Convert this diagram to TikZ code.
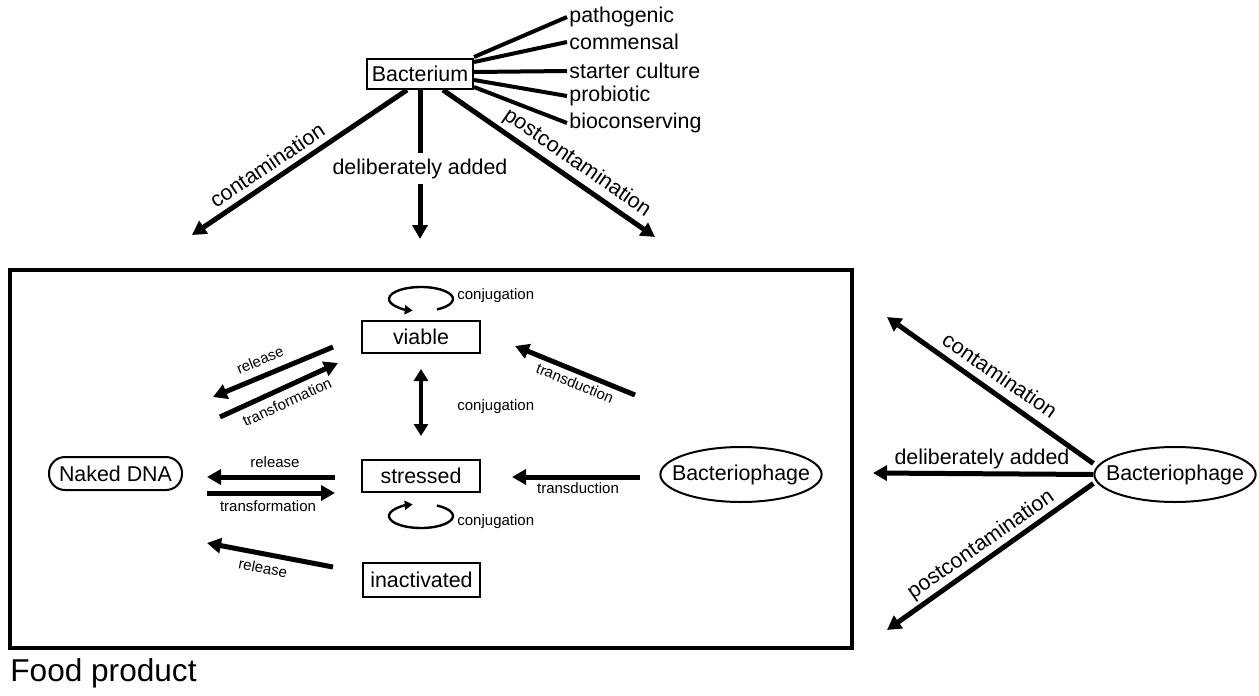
\documentclass[tikz,border=0pt]{standalone}
\usepackage{fontspec}
\setmainfont{Liberation Sans}
\usetikzlibrary{arrows.meta,shapes.geometric}
\begin{document}
\begin{tikzpicture}[x=0.5pt,y=-0.5pt,
  lab/.style={font=\fontsize{10.7}{12.8}\selectfont, inner sep=1pt},
  sm/.style={font=\fontsize{7.5}{9}\selectfont, inner sep=1pt},
  box/.style={draw, line width=1pt, rectangle, inner sep=0pt, font=\fontsize{10.7}{12.8}\selectfont},
  phage/.style={draw, line width=1pt, ellipse, inner xsep=-6pt, inner ysep=0pt, minimum width=80pt, minimum height=27.5pt, font=\fontsize{10.7}{12.8}\selectfont},
  bigarrow/.style={line width=2.5pt, -{Triangle[length=7pt,width=7.5pt]}},
  spoke/.style={line width=2pt},
  dblarrow/.style={line width=2pt, {Triangle[length=6pt,width=7pt]}-{Triangle[length=6pt,width=7pt]}},
  selfloop/.style={line width=1.2pt, -{Triangle[length=4pt,width=4.5pt]}}
]
\useasboundingbox (0,0) rectangle (1259,696);

% ---- Bacterium and its kinds
\node[box, minimum width=53pt, minimum height=15pt] (bact) at (420,74) {Bacterium};
\node[lab, anchor=west] (pat) at (567,17) {pathogenic};
\node[lab, anchor=west] (com) at (567,42) {commensal};
\node[lab, anchor=west] (sta) at (567,71) {starter culture};
\node[lab, anchor=west] (pro) at (567,96) {probiotic};
\node[lab, anchor=west] (bio) at (567,123) {bioconserving};
\draw[spoke] ([yshift=8.5pt]bact.east) -- (pat.west);
\draw[spoke] ([yshift=6pt]bact.east) -- (com.west);
\draw[spoke] ([yshift=1pt]bact.east) -- (sta.west);
\draw[spoke] ([yshift=-3pt]bact.east) -- (pro.west);
\draw[spoke] ([yshift=-6.5pt]bact.east) -- (bio.west);

% ---- arrows from Bacterium
\coordinate (tc) at (192,235);
\coordinate (td) at (420,239);
\coordinate (tp) at (655,237);
\draw[bigarrow] ([xshift=-6.5pt]bact.south) -- (tc);
\draw[bigarrow] (bact.south) -- node[lab, fill=white, pos=0.53, minimum height=15.5pt, inner xsep=0pt] (tdl) {deliberately added} (td);
\draw[bigarrow] ([xshift=11.5pt]bact.south) -- (tp);
\node[lab, rotate=34] (tcl) at (267,165) {contamination};
\node[lab, rotate=-34.7] (tpl) at (577,163) {postcontamination};

% ---- Food product box
\draw[line width=2pt] (10,270) rectangle (852,648);
\node[font=\fontsize{15.8}{18}\selectfont, anchor=west, inner sep=0pt] (food) at (10,673) {Food product};

% ---- inner nodes
\node[box, minimum width=59pt, minimum height=16pt] (via) at (421,337) {viable};
\node[box, minimum width=59pt, minimum height=16pt] (str) at (421,476) {stressed};
\node[box, minimum width=58.5pt, minimum height=17pt] (ina) at (421.5,580) {inactivated};
\node[draw, line width=1pt, rounded corners=8pt, minimum width=66.5pt, minimum height=16.5pt, inner sep=0pt, font=\fontsize{10.7}{12.8}\selectfont] (dna) at (115.5,473.5) {Naked DNA};
\node[phage] (phi) at (741,474.5) {Bacteriophage};
\node[phage] (pho) at (1175,474.5) {Bacteriophage};

% ---- self loops
\coordinate (vl) at ([yshift=10.5pt]via.north);
\draw[selfloop] ([shift={(-60:16pt and 6pt)}]vl) arc[start angle=-60, end angle=255, x radius=16pt, y radius=6pt];
\coordinate (sl) at ([yshift=-11.5pt]str.south);
\draw[selfloop] ([shift={(60:16pt and 6pt)}]sl) arc[start angle=60, end angle=-255, x radius=16pt, y radius=6pt];
\node[sm, anchor=west] (c1) at (455,296) {conjugation};
\node[sm, anchor=west] (c2) at (455,407) {conjugation};
\node[sm, anchor=west] (c3) at (455,522) {conjugation};

% ---- viable <-> stressed
\draw[dblarrow] ([yshift=-7.5pt]via.south) -- ([yshift=11.5pt]str.north);

% ---- release / transformation
\coordinate (r1s) at (333,347); \coordinate (r1e) at (213,397);
\coordinate (t1s) at (220,417); \coordinate (t1e) at (338,363);
\coordinate (r2s) at (335,477); \coordinate (r2e) at (207,477);
\coordinate (t2s) at (207,493); \coordinate (t2e) at (335,493);
\coordinate (r3s) at (333,567); \coordinate (r3e) at (207,543);
\draw[bigarrow] (r1s) -- (r1e);
\draw[bigarrow] (t1s) -- (t1e);
\draw[bigarrow] (r2s) -- (r2e);
\draw[bigarrow] (t2s) -- (t2e);
\draw[bigarrow] (r3s) -- (r3e);
\node[sm, rotate=22.6] (l1) at (260,360) {release};
\node[sm, rotate=24.6] (l2) at (287,402) {transformation};
\node[sm] (l3) at (275,462) {release};
\node[sm] (l4) at (268,506) {transformation};
\node[sm, rotate=-10.8] (l5) at (263,568) {release};

% ---- transduction
\coordinate (u1s) at (635,395); \coordinate (u1e) at (515,346);
\coordinate (u2s) at (640,477); \coordinate (u2e) at (512,477);
\draw[bigarrow] (u1s) -- (u1e);
\draw[bigarrow] (u2s) -- (u2e);
\node[sm, rotate=-22.2] (l6) at (575,383) {transduction};
\node[sm] (l7) at (578,488) {transduction};

% ---- outer bacteriophage arrows
\coordinate (rc) at (887,317);
\coordinate (rd) at (873,473);
\coordinate (rp) at (887,630);
\draw[bigarrow] ([yshift=5.5pt]pho.west) -- (rc);
\draw[bigarrow] (pho.west) -- (rd);
\draw[bigarrow] ([yshift=-4.5pt]pho.west) -- (rp);
\node[lab, rotate=-34.4] (rcl) at (1000,375) {contamination};
\node[lab] (rdl) at (982,459) {deliberately added};
\node[lab, rotate=35] (rpl) at (981,545) {postcontamination};
\end{tikzpicture}
\end{document}
